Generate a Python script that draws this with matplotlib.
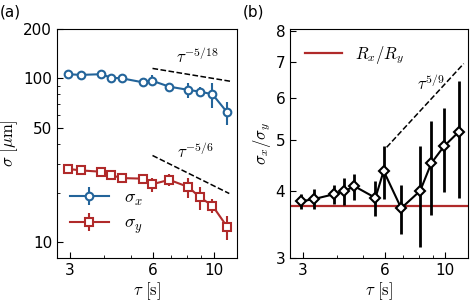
import matplotlib
matplotlib.use("Agg")
import matplotlib.pyplot as plt
import numpy as np
from matplotlib.ticker import FixedLocator, NullFormatter

plt.rcParams["mathtext.fontset"] = "cm"
plt.rcParams["font.size"] = 11

# data
tau = [2.95, 3.3, 3.9, 4.25, 4.65, 5.55, 5.95, 6.9, 8.1, 8.9, 9.9, 11.2]
sig_x = [106, 105, 106, 101, 100, 94.5, 97, 89, 85, 83, 80, 62]
sig_x_err = [1.5, 1.5, 1.5, 1.5, 1.5, 2.5, 7.5, 3, 9, 6, 14, 10]
sig_y = [28.0, 27.4, 26.9, 25.6, 24.6, 24.4, 22.5, 24.0, 21.7, 18.8, 16.7, 12.4]
sig_y_err = [0.4, 0.4, 0.4, 0.4, 0.4, 0.5, 2.3, 2.0, 3.0, 3.0, 1.7, 2.1]
ratio = [3.83, 3.87, 3.95, 4.0, 4.09, 3.89, 4.37, 3.72, 4.01, 4.52, 4.86, 5.17]
ratio_err = [0.12, 0.17, 0.16, 0.23, 0.23, 0.29, 0.5, 0.39, 0.86, 0.9, 0.87, 1.29]
r_xy = 3.75

# guide power laws: (tau range, value at start, exponent)
guide_x = ([6.0, 11.5], 115.0, -5 / 18)
guide_y = ([6.0, 11.4], 33.8, -5 / 6)
guide_r = ([6.1, 11.7], 4.84, 5 / 9)

blue = "#23649a"
red = "#b02a2a"


def guide(ax, spec):
    t, a, p = spec
    t = np.array(t)
    ax.plot(t, a * (t / t[0]) ** p, "k--", lw=1.1)


def style_xaxis(ax):
    ax.set_xscale("log")
    ax.set_xlim(2.7, 12.15)
    ax.xaxis.set_major_locator(FixedLocator([3, 6, 10]))
    ax.xaxis.set_minor_locator(FixedLocator([4, 5, 7, 8, 9]))
    ax.set_xticklabels(["3", "6", "10"])
    ax.xaxis.set_minor_formatter(NullFormatter())
    ax.set_xlabel(r"$\tau\ [\mathrm{s}]$", labelpad=2, fontsize=12)
    ax.tick_params(which="both", direction="in", top=False, right=False)
    ax.tick_params(which="major", length=4)
    ax.tick_params(which="minor", length=2.5)


fig = plt.figure(figsize=(4.71, 3.06), dpi=100)
ax1 = fig.add_axes([0.121, 0.157, 0.382, 0.748])
ax2 = fig.add_axes([0.616, 0.157, 0.378, 0.748])

# panel (a)
ax1.errorbar(tau, sig_x, yerr=sig_x_err, color=blue, marker="o", ms=5.5,
             mfc="white", mec=blue, mew=1.5, lw=1.5, elinewidth=1.5,
             label=r"$\sigma_x$")
ax1.errorbar(tau, sig_y, yerr=sig_y_err, color=red, marker="s", ms=5.5,
             mfc="white", mec=red, mew=1.5, lw=1.5, elinewidth=1.5,
             label=r"$\sigma_y$")
guide(ax1, guide_x)
guide(ax1, guide_y)
ax1.annotate(r"$\tau^{-5/18}$", xy=(8.7, 118), ha="center", va="bottom", fontsize=12)
ax1.annotate(r"$\tau^{-5/6}$", xy=(8.6, 31), ha="center", va="bottom", fontsize=12)
ax1.set_yscale("log")
ax1.set_ylim(8, 200)
ax1.yaxis.set_major_locator(FixedLocator([10, 50, 100, 200]))
ax1.set_yticklabels(["10", "50", "100", "200"])
ax1.yaxis.set_minor_locator(FixedLocator([20, 30, 40, 60, 70, 80, 90]))
ax1.yaxis.set_minor_formatter(NullFormatter())
ax1.set_ylabel(r"$\sigma\ [\mu\mathrm{m}]$", labelpad=2, fontsize=12)
style_xaxis(ax1)
ax1.legend(loc="lower left", bbox_to_anchor=(0.0, 0.04), frameon=False,
           fontsize=13, handlelength=2.2, borderaxespad=0.3, labelspacing=0.35)

# panel (b)
ax2.axhline(r_xy, color=red, lw=1.6, label=r"$R_x/R_y$")
ax2.errorbar(tau, ratio, yerr=ratio_err, color="k", marker="D", ms=5.5,
             mfc="white", mec="k", mew=1.5, lw=1.5, elinewidth=2.0)
guide(ax2, guide_r)
ax2.annotate(r"$\tau^{5/9}$", xy=(8.85, 6.1), ha="center", va="bottom", fontsize=12)
ax2.set_yscale("log")
ax2.set_ylim(3, 8.07)
ax2.yaxis.set_major_locator(FixedLocator([3, 4, 5, 6, 7, 8]))
ax2.set_yticklabels(["3", "4", "5", "6", "7", "8"])
ax2.yaxis.set_minor_formatter(NullFormatter())
ax2.yaxis.set_minor_locator(FixedLocator([]))
ax2.set_ylabel(r"$\sigma_x/\sigma_y$", labelpad=2, fontsize=12)
style_xaxis(ax2)
ax2.legend(loc="upper left", frameon=False, fontsize=12, handlelength=2.2,
           borderaxespad=0.5)

fig.text(0.0, 0.985, "(a)", fontsize=11, va="top", ha="left")
fig.text(0.515, 0.985, "(b)", fontsize=11, va="top", ha="left")

fig.savefig("out.png", dpi=100)
